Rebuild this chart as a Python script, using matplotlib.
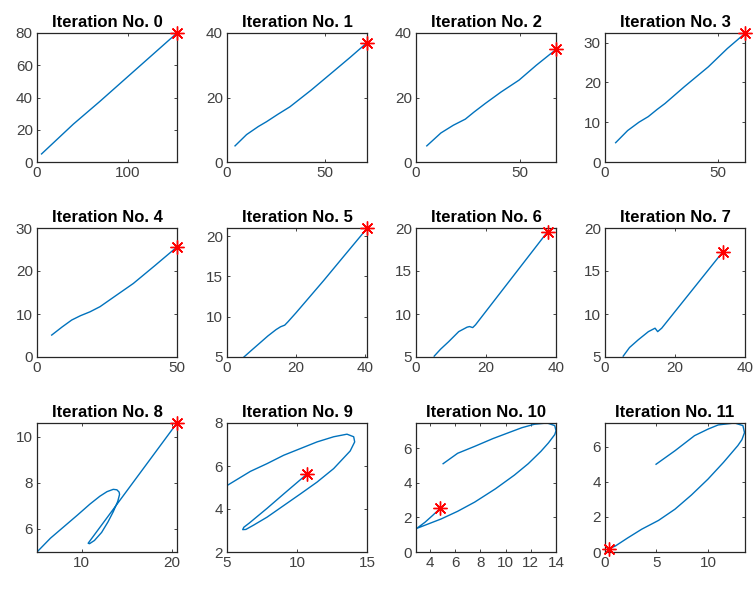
import matplotlib
matplotlib.use("Agg")
import matplotlib.pyplot as plt

plt.rcParams['font.family'] = ['Liberation Sans', 'DejaVu Sans']

titles = [f"Iteration No. {i}" for i in range(12)]

# trajectories
x0 = [5, 40, 69, 110, 154]
y0 = [5, 23.5, 37.5, 58, 80]

x1 = [4.1, 10, 16, 20.2, 26, 32.1, 43, 54.2, 63, 71.5]
y1 = [5, 8.5, 11, 12.5, 14.8, 17.1, 22.3, 28.0, 32.5, 37.0]

x2 = [5.2, 12, 18, 23.8, 28, 33.5, 41, 49.7, 58, 67.5]
y2 = [5, 9, 11.4, 13.3, 15.5, 18.2, 21.7, 25.4, 30, 34.9]

x3 = [4.7, 10, 15, 19.1, 23, 26.5, 35, 45.6, 54, 61.8]
y3 = [4.85, 7.9, 10, 11.4, 13.2, 14.7, 18.9, 23.9, 28.5, 32.3]

x4 = [5.25, 9, 12.4, 15.5, 18.9, 22.5, 28, 34.4, 42, 50]
y4 = [5.1, 7.0, 8.6, 9.6, 10.5, 11.7, 14.2, 17.1, 21.2, 25.6]

x5 = [4.9, 7, 9.3, 11.8, 14.2, 15.5, 16.7, 17.6, 20, 24, 28, 33.8, 40.5]
y5 = [5, 5.8, 6.66, 7.6, 8.4, 8.75, 8.95, 9.35, 10.5, 12.5, 14.5, 17.5, 20.95]

x6 = [5.2, 7, 9.3, 12.2, 14.6, 15.3, 16.2, 17.0, 37.6]
y6 = [5.1, 5.9, 6.77, 7.95, 8.47, 8.54, 8.42, 8.74, 19.57]

x7 = [5.2, 7, 9.5, 12.4, 14.3, 15.05, 16.2, 33.6]
y7 = [5.1, 6.1, 7.0, 7.95, 8.35, 7.95, 8.35, 17.2]

x8 = [5, 6.5, 8, 9.5, 10.9, 12.0, 12.8, 13.5, 13.9, 14.15, 14.2, 14.0, 13.5,
      12.9, 12.2, 11.4, 10.85, 10.7, 20.6]
y8 = [5, 5.6, 6.1, 6.6, 7.08, 7.42, 7.62, 7.72, 7.7, 7.6, 7.5, 7.2, 6.75,
      6.3, 5.85, 5.5, 5.36, 5.38, 10.6]

x9 = [5, 6.67, 7.86, 9.05, 10.24, 11.43, 12.62, 13.57, 14.05, 14.12, 13.8,
      12.62, 11.43, 10.24, 9.05, 7.86, 6.9, 6.35, 6.12, 6.2, 6.6, 7.86, 9.05,
      10.74]
y9 = [5.09, 5.75, 6.11, 6.5, 6.81, 7.12, 7.36, 7.48, 7.36, 7.12, 6.7,
      5.88, 5.25, 4.70, 4.16, 3.62, 3.25, 3.05, 3.04, 3.15, 3.35, 4.03, 4.7,
      5.64]

x10 = [5.05, 6.2, 7.55, 9, 10.2, 11.3, 12.3, 13.3, 13.9, 14.0, 13.9, 13.4,
       12.8, 11.8, 10.7, 9.2, 7.55, 6.2, 4.9, 3.8, 2.95, 3.6, 4.2, 4.84]
y10 = [5.1, 5.7, 6.1, 6.55, 6.88, 7.18, 7.38, 7.45, 7.3, 7.0, 6.78, 6.3,
       5.81, 5.1, 4.44, 3.65, 2.88, 2.35, 1.91, 1.6, 1.36, 1.71, 2.1, 2.53]

x11 = [4.96, 6.8, 8.7, 10.0, 11.0, 12.6, 13.4, 13.55, 13.3, 12.9, 11.5, 10.0,
       8.4, 6.8, 5.2, 3.57, 2.2, 1.0, 0.42]
y11 = [5.0, 5.77, 6.63, 7.0, 7.24, 7.35, 7.2, 6.8, 6.4, 6.06, 5.1, 4.15,
       3.25, 2.44, 1.8, 1.3, 0.8, 0.34, 0.19]

xs = [x0, x1, x2, x3, x4, x5, x6, x7, x8, x9, x10, x11]
ys = [y0, y1, y2, y3, y4, y5, y6, y7, y8, y9, y10, y11]

xlims = [(0, 154), (0, 71.5), (0, 67.5), (0, 61.8), (0, 50), (0, 40.5),
         (0, 40), (0, 40), (5, 20.6), (5, 15), (2.9, 14), (0, 13.6)]
ylims = [(0, 80), (0, 40), (0, 40), (0, 32.4), (0, 30), (5, 21),
         (5, 20), (5, 20), (5, 10.6), (2, 8), (0, 7.45), (0, 7.35)]
xticks = [[0, 100], [0, 50], [0, 50], [0, 50], [0, 50], [0, 20, 40],
          [0, 20, 40], [0, 20, 40], [10, 20], [5, 10, 15],
          [4, 6, 8, 10, 12, 14], [0, 5, 10]]
yticks = [[0, 20, 40, 60, 80], [0, 20, 40], [0, 20, 40], [0, 10, 20, 30],
          [0, 10, 20, 30], [5, 10, 15, 20], [5, 10, 15, 20], [5, 10, 15, 20],
          [6, 8, 10], [2, 4, 6, 8], [0, 2, 4, 6], [0, 2, 4, 6]]

W, H = 755, 590
fig = plt.figure(figsize=(W / 100, H / 100), dpi=100)

lefts = [37, 227, 416, 605]
tops = [33, 228, 423]
aw, ah = 140, 129

line_color = '#0072BD'
axis_color = '#262626'

for i in range(12):
    r, c = divmod(i, 4)
    ax = fig.add_axes([lefts[c] / W, 1 - (tops[r] + ah) / H, aw / W, ah / H])
    ax.plot(xs[i], ys[i], color=line_color, lw=1.0)
    ax.plot(xs[i][-1], ys[i][-1], linestyle='none', marker=(8, 2, 0),
            markersize=10, markeredgecolor='red', markeredgewidth=1.0,
            color='red', clip_on=False, zorder=5)
    ax.set_xlim(*xlims[i])
    ax.set_ylim(*ylims[i])
    ax.set_xticks(xticks[i])
    ax.set_yticks(yticks[i])
    ax.set_title(titles[i], fontsize=12, fontweight='bold', pad=4)
    ax.tick_params(direction='in', top=True, right=True, length=2.5,
                   width=0.6, color=axis_color, labelsize=11,
                   labelcolor='#404040', pad=3)
    for s in ax.spines.values():
        s.set_color(axis_color)
        s.set_linewidth(0.9)

fig.savefig('out.png', dpi=100)
